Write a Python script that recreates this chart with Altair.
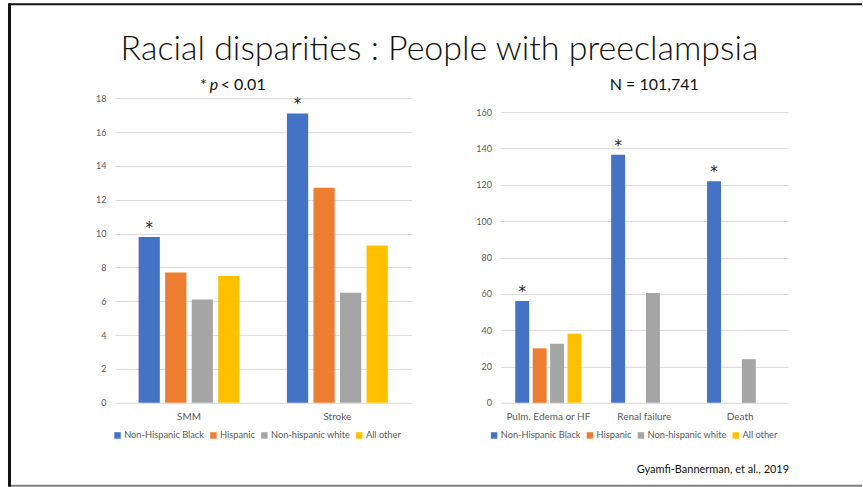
import altair as alt
import pandas as pd

groups = ["Non-Hispanic Black", "Hispanic", "Non-hispanic white", "All other"]
colors = ["#4472C4", "#ED7D31", "#A5A5A5", "#FFC000"]

left_cats = ["SMM", "Stroke"]
left_black = [9.8, 17.1]
left_hisp = [7.7, 12.7]
left_white = [6.1, 6.5]
left_other = [7.5, 9.3]
left_star = ["*", "*"]
left_ticks = [0, 2, 4, 6, 8, 10, 12, 14, 16, 18]

right_cats = ["Pulm. Edema or HF", "Renal failure", "Death"]
right_black = [56, 136.5, 122]
right_hisp = [30, None, None]
right_white = [32.5, 60.5, 24]
right_other = [38, None, None]
right_star = ["*", "*", "*"]
right_ticks = [0, 20, 40, 60, 80, 100, 120, 140, 160]

title_text = "Racial disparities : People with preeclampsia"
n_text = "N = 101,741"
cite_text = "Gyamfi-Bannerman,  et al., 2019"

FONT = "Lato"
GRAY = "#595959"


def long_table(cats, series):
    rows = []
    for ci, c in enumerate(cats):
        for g, vals in zip(groups, series):
            rows.append({"cat": c, "grp": g, "val": vals[ci]})
    return pd.DataFrame(rows)


def star_table(cats, black, stars):
    return pd.DataFrame({"cat": cats, "grp": [groups[0]] * len(cats), "val": black, "star": stars})


def panel(cats, df, sdf, ymax, ticks, x_pad_inner, x_pad_outer, legend_x):
    xscale = alt.Scale(paddingInner=x_pad_inner, paddingOuter=x_pad_outer)
    xoscale = alt.Scale(domain=groups, paddingInner=0.2, paddingOuter=0)
    yscale = alt.Scale(domain=[0, ymax], nice=False, zero=True)
    xaxis = alt.Axis(labelAngle=0, ticks=False, domain=False, labelFont=FONT,
                     labelFontSize=10, labelColor=GRAY, labelPadding=9)
    yaxis = alt.Axis(values=ticks, ticks=False, domain=False, grid=True,
                     gridColor="#D9D9D9", gridWidth=1, labelFont=FONT,
                     labelFontSize=9, labelColor=GRAY, labelPadding=9,
                     labelOverlap=False)
    xenc = alt.X("cat:N", sort=cats, title=None, scale=xscale, axis=xaxis)
    xoenc = alt.XOffset("grp:N", sort=groups, scale=xoscale)
    yenc = alt.Y("val:Q", title=None, scale=yscale, axis=yaxis)
    bars = alt.Chart(df).mark_bar().encode(
        x=xenc,
        xOffset=xoenc,
        y=yenc,
        color=alt.Color("grp:N", sort=groups,
                        scale=alt.Scale(domain=groups, range=colors),
                        legend=alt.Legend(title=None, orient="none", direction="horizontal",
                                          legendX=legend_x, legendY=333,
                                          symbolType="square", symbolSize=42,
                                          symbolStrokeWidth=0, labelFont=FONT,
                                          labelFontSize=9.3, labelColor=GRAY,
                                          labelOffset=2, columnPadding=4)),
    )
    stars = alt.Chart(sdf).mark_text(font="DejaVu Sans", fontSize=15, color="#222222",
                                     baseline="alphabetic", dy=-4).encode(
        x=xenc, xOffset=xoenc, y=yenc, text="star:N",
    )
    return bars, stars


ldf = long_table(left_cats, [left_black, left_hisp, left_white, left_other])
rdf = long_table(right_cats, [right_black, right_hisp, right_white, right_other])
lsdf = star_table(left_cats, left_black, left_star)
rsdf = star_table(right_cats, right_black, right_star)

lb, ls = panel(left_cats, ldf, lsdf, 18, left_ticks, 0.32, 0.16, -2)
rb, rs = panel(right_cats, rdf, rsdf, 167.7, right_ticks, 0.31, 0.155, -11)

one = pd.DataFrame({"k": [0]})

# frame extent (whole slide) and border lines, left-panel coordinates (origin at 115, 98)
extent = alt.Chart(one).mark_rect(fill="white", opacity=0).encode(
    x=alt.value(-115), x2=alt.value(748), y=alt.value(-98), y2=alt.value(389))
top_line = alt.Chart(one).mark_rule(color="#111111", strokeWidth=2).encode(
    x=alt.value(-106), x2=alt.value(748), y=alt.value(-94))
left_line = alt.Chart(one).mark_rule(color="#111111", strokeWidth=3).encode(
    x=alt.value(-105.5), y=alt.value(-95), y2=alt.value(389))
bottom_line = alt.Chart(one).mark_rule(color="#7F7F7F", strokeWidth=2).encode(
    x=alt.value(-104), x2=alt.value(748), y=alt.value(388))

main_title = alt.Chart(one).mark_text(font=FONT, fontSize=34, fontWeight=300, color="#111111",
                                      baseline="middle", align="center").encode(
    x=alt.value(325), y=alt.value(-48), text=alt.value(title_text))
sub_star = alt.Chart(one).mark_text(font=FONT, fontSize=16, color="#111111",
                                    baseline="alphabetic", align="right").encode(
    x=alt.value(92), y=alt.value(-8), text=alt.value("*"))
sub_p = alt.Chart(one).mark_text(font=FONT, fontSize=16, fontStyle="italic", color="#111111",
                                 baseline="alphabetic", align="left").encode(
    x=alt.value(95), y=alt.value(-8), text=alt.value("p"))
sub_rest = alt.Chart(one).mark_text(font=FONT, fontSize=16, color="#111111",
                                    baseline="alphabetic", align="left").encode(
    x=alt.value(106), y=alt.value(-8), text=alt.value("< 0.01"))

n_label = alt.Chart(one).mark_text(font=FONT, fontSize=16, color="#111111",
                                   baseline="alphabetic", align="center").encode(
    x=alt.value(154), y=alt.value(-8), text=alt.value(n_text))
cite = alt.Chart(one).mark_text(font=FONT, fontSize=11, color="#111111",
                                baseline="middle", align="right").encode(
    x=alt.value(289), y=alt.value(372), text=alt.value(cite_text))

left = alt.layer(extent, top_line, left_line, bottom_line, lb, ls, main_title,
                 sub_star, sub_p, sub_rest).properties(width=297, height=305)
right = alt.layer(rb, rs, n_label, cite).properties(width=288, height=305)

chart = alt.hconcat(left, right, spacing=89, bounds="flush").resolve_scale(
    color="independent", x="independent", y="independent", xOffset="independent"
).resolve_legend(color="independent").properties(
    padding=0, background="white"
).configure_view(stroke=None)

chart.save("out.html", embed_options={"renderer": "svg", "actions": False})
